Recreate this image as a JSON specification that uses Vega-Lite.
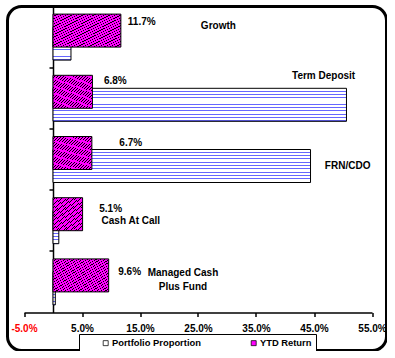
{
  "$schema": "https://vega.github.io/schema/vega-lite/v6.json",
  "width": 379,
  "height": 344,
  "autosize": {"type": "none"},
  "padding": {"left": 7.5, "top": 6.5, "right": 0, "bottom": 0},
  "background": "white",
  "config": {
    "view": {"stroke": "black", "strokeWidth": 3, "cornerRadius": 14},
    "font": "Liberation Sans",
    "text": {"font": "Liberation Sans", "fontWeight": "bold", "fontSize": 10, "fill": "black", "baseline": "middle", "align": "left"}
  },
  "data": {
    "values": [
      {"cat": "Growth", "name": "Growth", "portfolio": 0.031, "ytd": 0.117},
      {"cat": "Term Deposit", "name": "Term Deposit", "portfolio": 0.506, "ytd": 0.068},
      {"cat": "FRN/CDO", "name": "FRN/CDO", "portfolio": 0.444, "ytd": 0.067},
      {"cat": "Cash At Call", "name": "Cash At Call", "portfolio": 0.010, "ytd": 0.051},
      {"cat": "Managed Cash Plus Fund", "name": "Managed Cash\nPlus Fund", "portfolio": 0.004, "ytd": 0.096}
    ]
  },
  "encoding": {
    "y": {
      "field": "cat", "type": "nominal", "sort": null,
      "scale": {"range": [0, 306], "paddingInner": 0, "paddingOuter": 0},
      "axis": {"labels": false, "title": null, "offset": -45.5, "bandPosition": 0, "ticks": true, "tickSize": 4, "tickColor": "black", "tickWidth": 1.5, "domainColor": "black", "domainWidth": 1.5, "grid": false}
    }
  },
  "layer": [
    {
      "mark": {"type": "bar", "height": 33, "yOffset": 6.5, "stroke": "black", "strokeWidth": 1,
        "fill": {"gradient": "linear", "x1": 0, "y1": 0, "x2": 0, "y2": 1, "stops": [
          {"offset": 0, "color": "white"}, {"offset": 0.07, "color": "white"}, {"offset": 0.07, "color": "#6666ff"}, {"offset": 0.1, "color": "#6666ff"},
          {"offset": 0.1, "color": "white"}, {"offset": 0.17, "color": "white"}, {"offset": 0.17, "color": "#6666ff"}, {"offset": 0.2, "color": "#6666ff"},
          {"offset": 0.2, "color": "white"}, {"offset": 0.27, "color": "white"}, {"offset": 0.27, "color": "#6666ff"}, {"offset": 0.3, "color": "#6666ff"},
          {"offset": 0.3, "color": "white"}, {"offset": 0.37, "color": "white"}, {"offset": 0.37, "color": "#6666ff"}, {"offset": 0.4, "color": "#6666ff"},
          {"offset": 0.4, "color": "white"}, {"offset": 0.47, "color": "white"}, {"offset": 0.47, "color": "#6666ff"}, {"offset": 0.5, "color": "#6666ff"},
          {"offset": 0.5, "color": "white"}, {"offset": 0.57, "color": "white"}, {"offset": 0.57, "color": "#6666ff"}, {"offset": 0.6, "color": "#6666ff"},
          {"offset": 0.6, "color": "white"}, {"offset": 0.67, "color": "white"}, {"offset": 0.67, "color": "#6666ff"}, {"offset": 0.7, "color": "#6666ff"},
          {"offset": 0.7, "color": "white"}, {"offset": 0.77, "color": "white"}, {"offset": 0.77, "color": "#6666ff"}, {"offset": 0.8, "color": "#6666ff"},
          {"offset": 0.8, "color": "white"}, {"offset": 0.87, "color": "white"}, {"offset": 0.87, "color": "#6666ff"}, {"offset": 0.9, "color": "#6666ff"},
          {"offset": 0.9, "color": "white"}, {"offset": 0.97, "color": "white"}, {"offset": 0.97, "color": "#6666ff"}, {"offset": 1, "color": "#6666ff"}
        ]}
      },
      "encoding": {
        "x": {
          "field": "portfolio", "type": "quantitative",
          "scale": {"domain": [-0.05, 0.55], "range": [16.5, 364.5], "nice": false, "zero": false},
          "axis": {"values": [-0.05, 0.05, 0.15, 0.25, 0.35, 0.45, 0.55], "labelExpr": "(datum.value < 0 ? '-' : '') + format(abs(datum.value), '.1%')", "labelColor": {"condition": {"test": "datum.value < 0", "value": "#ff0000"}, "value": "black"}, "offset": -38, "domainColor": "black", "domainWidth": 1.5, "tickColor": "black", "tickWidth": 1.5, "tickSize": 4, "labelFont": "Liberation Sans", "labelFontWeight": "bold", "labelFontSize": 10, "labelPadding": 7, "grid": false, "title": null, "labelOverlap": false, "labelFlush": false}
        }
      }
    },
    {
      "mark": {"type": "bar", "height": 33, "yOffset": -6.5, "stroke": "black", "strokeWidth": 1,
        "fill": {"gradient": "linear", "x1": 0, "y1": 0, "x2": 1, "y2": 1, "stops": [
          {"offset": 0, "color": "#ff00ff"}, {"offset": 0.03, "color": "#ff00ff"}, {"offset": 0.03, "color": "black"}, {"offset": 0.04, "color": "black"},
          {"offset": 0.04, "color": "#ff00ff"}, {"offset": 0.07, "color": "#ff00ff"}, {"offset": 0.07, "color": "black"}, {"offset": 0.08, "color": "black"},
          {"offset": 0.08, "color": "#ff00ff"}, {"offset": 0.11, "color": "#ff00ff"}, {"offset": 0.11, "color": "black"}, {"offset": 0.12, "color": "black"},
          {"offset": 0.12, "color": "#ff00ff"}, {"offset": 0.15, "color": "#ff00ff"}, {"offset": 0.15, "color": "black"}, {"offset": 0.16, "color": "black"},
          {"offset": 0.16, "color": "#ff00ff"}, {"offset": 0.19, "color": "#ff00ff"}, {"offset": 0.19, "color": "black"}, {"offset": 0.2, "color": "black"},
          {"offset": 0.2, "color": "#ff00ff"}, {"offset": 0.23, "color": "#ff00ff"}, {"offset": 0.23, "color": "black"}, {"offset": 0.24, "color": "black"},
          {"offset": 0.24, "color": "#ff00ff"}, {"offset": 0.27, "color": "#ff00ff"}, {"offset": 0.27, "color": "black"}, {"offset": 0.28, "color": "black"},
          {"offset": 0.28, "color": "#ff00ff"}, {"offset": 0.31, "color": "#ff00ff"}, {"offset": 0.31, "color": "black"}, {"offset": 0.32, "color": "black"},
          {"offset": 0.32, "color": "#ff00ff"}, {"offset": 0.35, "color": "#ff00ff"}, {"offset": 0.35, "color": "black"}, {"offset": 0.36, "color": "black"},
          {"offset": 0.36, "color": "#ff00ff"}, {"offset": 0.39, "color": "#ff00ff"}, {"offset": 0.39, "color": "black"}, {"offset": 0.4, "color": "black"},
          {"offset": 0.4, "color": "#ff00ff"}, {"offset": 0.43, "color": "#ff00ff"}, {"offset": 0.43, "color": "black"}, {"offset": 0.44, "color": "black"},
          {"offset": 0.44, "color": "#ff00ff"}, {"offset": 0.47, "color": "#ff00ff"}, {"offset": 0.47, "color": "black"}, {"offset": 0.48, "color": "black"},
          {"offset": 0.48, "color": "#ff00ff"}, {"offset": 0.51, "color": "#ff00ff"}, {"offset": 0.51, "color": "black"}, {"offset": 0.52, "color": "black"},
          {"offset": 0.52, "color": "#ff00ff"}, {"offset": 0.55, "color": "#ff00ff"}, {"offset": 0.55, "color": "black"}, {"offset": 0.56, "color": "black"},
          {"offset": 0.56, "color": "#ff00ff"}, {"offset": 0.59, "color": "#ff00ff"}, {"offset": 0.59, "color": "black"}, {"offset": 0.6, "color": "black"},
          {"offset": 0.6, "color": "#ff00ff"}, {"offset": 0.63, "color": "#ff00ff"}, {"offset": 0.63, "color": "black"}, {"offset": 0.64, "color": "black"},
          {"offset": 0.64, "color": "#ff00ff"}, {"offset": 0.67, "color": "#ff00ff"}, {"offset": 0.67, "color": "black"}, {"offset": 0.68, "color": "black"},
          {"offset": 0.68, "color": "#ff00ff"}, {"offset": 0.71, "color": "#ff00ff"}, {"offset": 0.71, "color": "black"}, {"offset": 0.72, "color": "black"},
          {"offset": 0.72, "color": "#ff00ff"}, {"offset": 0.75, "color": "#ff00ff"}, {"offset": 0.75, "color": "black"}, {"offset": 0.76, "color": "black"},
          {"offset": 0.76, "color": "#ff00ff"}, {"offset": 0.79, "color": "#ff00ff"}, {"offset": 0.79, "color": "black"}, {"offset": 0.8, "color": "black"},
          {"offset": 0.8, "color": "#ff00ff"}, {"offset": 0.83, "color": "#ff00ff"}, {"offset": 0.83, "color": "black"}, {"offset": 0.84, "color": "black"},
          {"offset": 0.84, "color": "#ff00ff"}, {"offset": 0.87, "color": "#ff00ff"}, {"offset": 0.87, "color": "black"}, {"offset": 0.88, "color": "black"},
          {"offset": 0.88, "color": "#ff00ff"}, {"offset": 0.91, "color": "#ff00ff"}, {"offset": 0.91, "color": "black"}, {"offset": 0.92, "color": "black"},
          {"offset": 0.92, "color": "#ff00ff"}, {"offset": 0.95, "color": "#ff00ff"}, {"offset": 0.95, "color": "black"}, {"offset": 0.96, "color": "black"},
          {"offset": 0.96, "color": "#ff00ff"}, {"offset": 0.99, "color": "#ff00ff"}, {"offset": 0.99, "color": "black"}, {"offset": 1, "color": "black"}
        ]}
      },
      "encoding": {
        "x": {"field": "ytd", "type": "quantitative"}
      }
    },
    {
      "mark": {"type": "square", "opacity": 0},
      "encoding": {
        "x": {"field": "ytd", "type": "quantitative"},
        "color": {
          "datum": "Portfolio Proportion",
          "scale": {"domain": ["Portfolio Proportion", "YTD Return"], "range": ["white", "#ff00ff"]},
          "legend": {"orient": "none", "legendX": 71.5, "legendY": 327.5, "direction": "horizontal", "title": "\u2003\u2003", "titleOrient": "right", "titleFontSize": 10, "titlePadding": 0, "titleColor": "white", "strokeColor": "black", "fillColor": "white", "padding": 4, "symbolType": "square", "symbolSize": 25, "symbolOpacity": 1, "symbolStrokeColor": "black", "symbolStrokeWidth": 0.75, "labelFont": "Liberation Sans", "labelFontWeight": "bold", "labelFontSize": 9.4, "labelColor": "black", "columnPadding": 30, "symbolOffset": 18, "labelOffset": 1.5}
        }
      }
    },
    {
      "mark": {"type": "square", "opacity": 0},
      "encoding": {
        "x": {"field": "ytd", "type": "quantitative"},
        "color": {"datum": "YTD Return"}
      }
    },
    {"transform": [{"filter": "datum.cat === 'Growth'"}], "mark": {"type": "text", "dx": 7, "dy": -15}, "encoding": {"x": {"field": "ytd", "type": "quantitative"}, "text": {"field": "ytd", "format": ".1%"}}},
    {"transform": [{"filter": "datum.cat === 'Term Deposit'"}], "mark": {"type": "text", "dx": 11.5, "dy": -17}, "encoding": {"x": {"field": "ytd", "type": "quantitative"}, "text": {"field": "ytd", "format": ".1%"}}},
    {"transform": [{"filter": "datum.cat === 'FRN/CDO'"}], "mark": {"type": "text", "dx": 27.5, "dy": -17}, "encoding": {"x": {"field": "ytd", "type": "quantitative"}, "text": {"field": "ytd", "format": ".1%"}}},
    {"transform": [{"filter": "datum.cat === 'Cash At Call'"}], "mark": {"type": "text", "dx": 16.7, "dy": -12}, "encoding": {"x": {"field": "ytd", "type": "quantitative"}, "text": {"field": "ytd", "format": ".1%"}}},
    {"transform": [{"filter": "datum.cat === 'Managed Cash Plus Fund'"}], "mark": {"type": "text", "dx": 9.6, "dy": -10}, "encoding": {"x": {"field": "ytd", "type": "quantitative"}, "text": {"field": "ytd", "format": ".1%"}}},
    {"transform": [{"filter": "datum.cat === 'Growth'"}], "mark": {"type": "text", "dx": 80, "dy": -11}, "encoding": {"x": {"field": "ytd", "type": "quantitative"}, "text": {"field": "name"}}},
    {"transform": [{"filter": "datum.cat === 'Term Deposit'"}], "mark": {"type": "text", "dx": 199.6, "dy": -22}, "encoding": {"x": {"field": "ytd", "type": "quantitative"}, "text": {"field": "name"}}},
    {"transform": [{"filter": "datum.cat === 'FRN/CDO'"}], "mark": {"type": "text", "dx": 233, "dy": 6}, "encoding": {"x": {"field": "ytd", "type": "quantitative"}, "text": {"field": "name"}}},
    {"transform": [{"filter": "datum.cat === 'Cash At Call'"}], "mark": {"type": "text", "dx": 19, "dy": 0}, "encoding": {"x": {"field": "ytd", "type": "quantitative"}, "text": {"field": "name"}}},
    {"transform": [{"filter": "datum.cat === 'Managed Cash Plus Fund'"}], "mark": {"type": "text", "align": "center", "dx": 74.3, "dy": -8.5, "lineBreak": "\n", "lineHeight": 14}, "encoding": {"x": {"field": "ytd", "type": "quantitative"}, "text": {"field": "name"}}}
  ]
}
